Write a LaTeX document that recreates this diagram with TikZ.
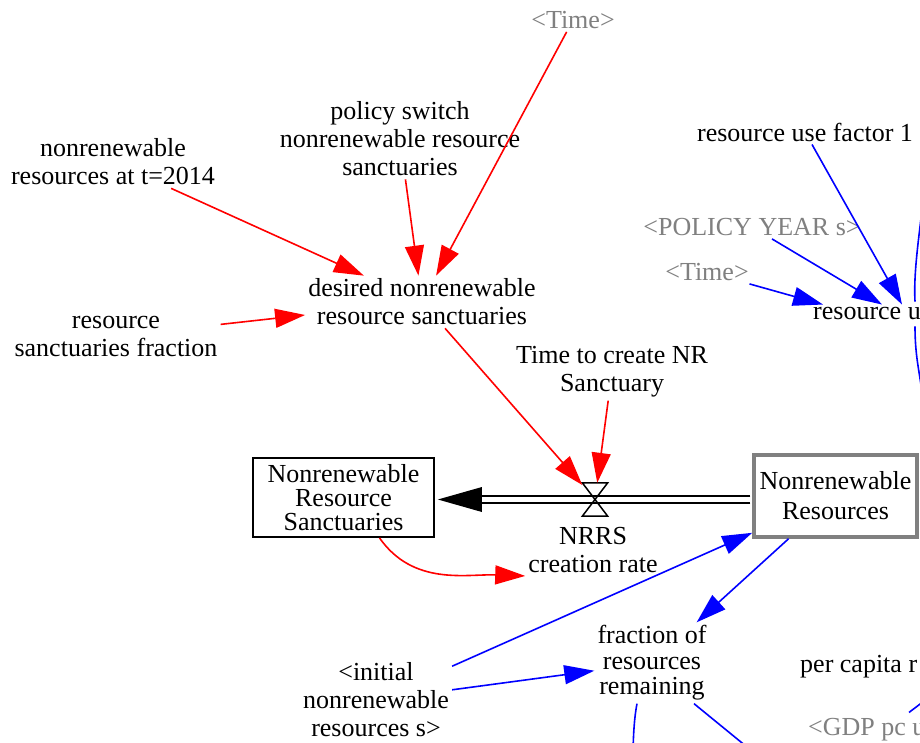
\documentclass[tikz,border=0pt]{standalone}
\usepackage{fontspec}
\setmainfont{Liberation Serif}
\usetikzlibrary{arrows.meta,calc}
\definecolor{vblue}{RGB}{0,0,255}
\definecolor{vred}{RGB}{255,0,0}
\definecolor{vgray}{RGB}{128,128,128}
\begin{document}
\begin{tikzpicture}[x=1pt,y=-1pt,
  lbl/.style={align=center,inner sep=3pt,font=\fontsize{26}{28}\selectfont},
  ghost/.style={lbl,text=vgray},
  stockbox/.style={draw,line width=1.8pt,align=center,inner sep=0pt},
  redarr/.style={draw=vred,line width=1.6pt,-{Triangle[length=30pt,width=19pt]}},
  bluearr/.style={draw=vblue,line width=1.6pt,-{Triangle[length=30pt,width=19pt]}},
  blueline/.style={draw=vblue,line width=1.6pt},
  pipeline/.style={line width=1.8pt},
  valveshape/.style={line width=1.5pt}
]
\useasboundingbox (0,0) rectangle (920,743);
\clip (0,0) rectangle (920,743);
\fill[white] (0,0) rectangle (920,743);

% variables
\node[ghost] (timeA) at (573,20) {<Time>};
\node[lbl] (policy) at (400,139) {policy switch\\nonrenewable resource\\sanctuaries};
\node[lbl] (nr2014) at (113,162) {nonrenewable\\resources at t=2014};
\node[lbl] (ruf1) at (805,132) {resource use factor 1};
\node[ghost] (pyear) at (752,227) {<POLICY YEAR s>};
\node[ghost] (timeB) at (707,272) {<Time>};
\node[lbl,anchor=west] (resuse) at (810,314) {resource u};
\node[lbl] (desired) at (422,302) {desired nonrenewable\\resource sanctuaries};
\node[lbl] (rsf) at (116,336) {resource\\sanctuaries fraction};
\node[lbl] (ttc) at (612,372) {Time to create NR\\Sanctuary};
\node[lbl] (nrrs) at (593,550) {NRRS\\creation rate};
\node[lbl,font=\fontsize{26}{25.5}\selectfont] (frac) at (652,663) {fraction of\\resources\\remaining};
\node[lbl] (init) at (376,700) {<initial\\nonrenewable\\resources s>};
\node[lbl,anchor=west] (percap) at (797,667) {per capita r};
\node[ghost,anchor=west] (gdp) at (805,730) {<GDP pc u};

% stocks
\node[stockbox,minimum width=181pt,minimum height=79pt,font=\fontsize{26}{24}\selectfont] (nrs) at (343.5,497.5) {Nonrenewable\\Resource\\Sanctuaries};
\node[stockbox,draw=vgray,line width=3.5pt,minimum width=163pt,minimum height=82pt,font=\fontsize{26}{30}\selectfont] (nr) at (835.5,496) {Nonrenewable\\Resources};

% valve
\node[minimum width=25pt,minimum height=33pt,inner sep=0pt] (valve) at (595,499.5) {};

% pipe
\draw[pipeline] ($(nr.west |- valve)+(-1.8,-3.8)$) -- ($(nrs.east |- valve)+(44,-3.8)$);
\draw[pipeline] ($(nr.west |- valve)+(-1.8,3.8)$) -- ($(nrs.east |- valve)+(44,3.8)$);
\fill ($(nrs.east |- valve)+(3,0)$) -- ++(44,-12.5) -- ++(0,25) -- cycle;
\draw[valveshape] (valve.north west) -- (valve.north east) -- (valve.south west) -- (valve.south east) -- cycle;

% red connectors
\draw[redarr] (nr2014) -- (desired);
\draw[redarr] (policy) -- (desired);
\draw[redarr] (timeA) -- (desired);
\draw[redarr] (rsf) -- (desired);
\draw[redarr] (desired) -- (valve);
\draw[redarr] (ttc) -- (valve);
\draw[redarr] ([xshift=36pt]nrs.south) to[out=-55,in=178] (nrrs.south west);

% blue connectors
\coordinate (offA) at (925,180);
\coordinate (offB) at (921,385);
\coordinate (offC) at (633,760);
\coordinate (offD) at (758,756);
\coordinate (offE) at (932,695);
\draw[bluearr] (ruf1) -- ($(resuse.north west)+(92,0)$);
\draw[bluearr] (pyear) -- ($(resuse.north west)+(72,0)$);
\draw[bluearr] (timeB) -- ($(resuse.north west)+(13,0)$);
\draw[blueline] ($(resuse.north west)+(105,-3)$) .. controls +(-2,-35) and +(-3,40) .. (offA);
\draw[blueline] ($(resuse.south west)+(105,3)$) .. controls +(0,25) and +(-3,-20) .. (offB);
\draw[bluearr] (nr) -- (frac);
\draw[bluearr] (init) -- (nr);
\draw[bluearr] (init) -- (frac);
\draw[blueline] ([xshift=-15pt]frac.south) .. controls +(-3,15) and +(0,-20) .. (offC);
\draw[blueline] ([xshift=42pt]frac.south) -- (offD);
\draw[blueline] ($(gdp.north west)+(104,-3)$) -- (offE);
\end{tikzpicture}
\end{document}
